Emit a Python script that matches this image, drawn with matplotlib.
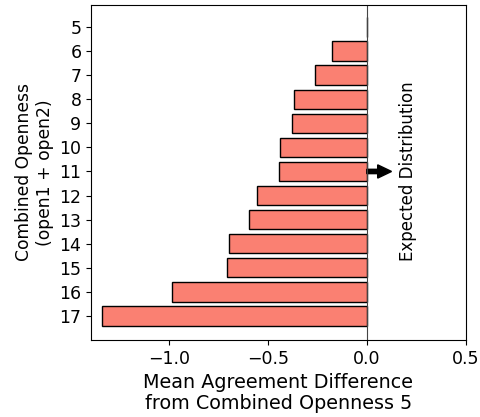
import matplotlib
matplotlib.use("Agg")
import matplotlib.pyplot as plt
import numpy as np

categories = ["5", "6", "7", "8", "9", "10", "11", "12", "13", "14", "15", "16", "17"]
values = [0.0, -0.177, -0.261, -0.369, -0.381, -0.437, -0.444, -0.554, -0.596, -0.699, -0.709, -0.986, -1.338]

fig, ax = plt.subplots(figsize=(4.8, 4.17), dpi=100)
pos = np.arange(len(categories))
ax.barh(pos, values, height=0.8, color="salmon", edgecolor="black", linewidth=1)
ax.axvline(0, color="#444444", linewidth=0.8)
ax.set_yticks(pos)
ax.set_yticklabels(categories, fontsize=12.5)
ax.tick_params(axis="x", labelsize=12.5)
ax.set_xticks([-1.0, -0.5, 0.0, 0.5])
ax.set_xlim(-1.395, 0.5)
ax.set_ylim(12.99, -0.91)
ax.set_xlabel("Mean Agreement Difference\nfrom Combined Openness 5", fontsize=13.8, linespacing=1.1)
ax.set_ylabel("Combined Openness\n(open1 + open2)", fontsize=12.3)

idx11 = categories.index("11")
ax.arrow(0.0, idx11, 0.055, 0, width=0.18, head_width=0.55, head_length=0.07,
         color="black", length_includes_head=False)
ax.text(0.21, idx11, "Expected Distribution", rotation=90, ha="center", va="center", fontsize=12)

fig.subplots_adjust(left=0.19, right=0.97, top=0.988, bottom=0.185)
fig.savefig("out.png", dpi=100)
